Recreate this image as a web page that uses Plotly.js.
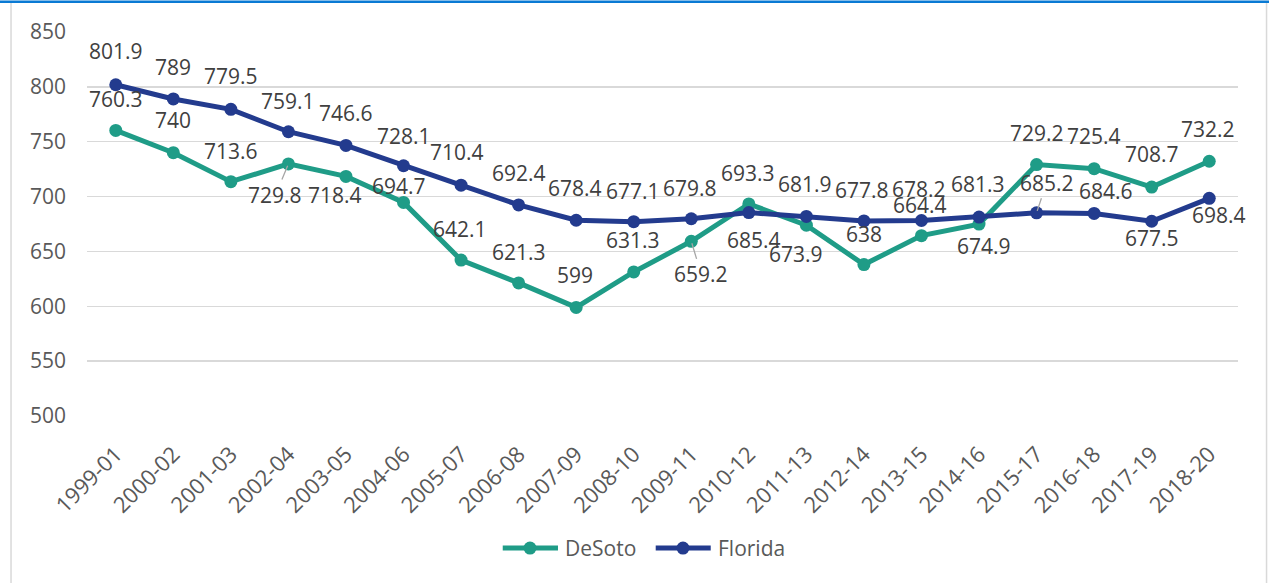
<!DOCTYPE html>
<html><head><meta charset="utf-8">
<script src="https://cdn.plot.ly/plotly-3.0.1.min.js"></script>
<style>html,body{margin:0;padding:0;background:#fff}#chart{width:1269px;height:583px}</style>
</head><body><div id="chart"></div>
<script>
const categories = ["1999-01","2000-02","2001-03","2002-04","2003-05","2004-06","2005-07","2006-08","2007-09","2008-10","2009-11","2010-12","2011-13","2012-14","2013-15","2014-16","2015-17","2016-18","2017-19","2018-20"];
const desoto  = [760.3,740,713.6,729.8,718.4,694.7,642.1,621.3,599,631.3,659.2,693.3,673.9,638,664.4,674.9,729.2,725.4,708.7,732.2];
const florida = [801.9,789,779.5,759.1,746.6,728.1,710.4,692.4,678.4,677.1,679.8,685.4,681.9,677.8,678.2,681.3,685.2,684.6,677.5,698.4];
const seriesNames = ["DeSoto","Florida"];
const yTicks = [500,550,600,650,700,750,800,850];

// label placement (pixel offsets from point: [dx, dy], dy positive = down)
const desotoLabelPos = [[0,-31],[0,-33],[0,-31],[-13,31],[-11,19],[-5,-16],[-1,-31],[0,-31],[-1,-32],[-1,-32],[10,33],[-1,-31],[-10,29],[0,-31],[-1,-31],[5,22],[0,-32],[0,-33],[0,-33],[-1,-32]];
const floridaLabelPos = [[0,-34],[0,-32],[0,-33],[0,-31],[0,-32],[0,-30],[-4,-33],[0,-32],[-1,-32],[-1,-31],[-1,-31],[5,27],[-1,-32],[-2,-31],[-2,-31],[-1,-33],[10,-30],[12,-22],[0,17],[10,17]];
const desotoLeader = [3,10];
const floridaLeader = [16];

const teal = '#1f9c87', navy = '#233b8e';
const FONT = 'Open Sans, Liberation Sans, sans-serif';

function lineTrace(name, ys, color){
  return {type:'scatter', mode:'lines+markers', name:name, x:categories, y:ys,
    line:{color:color, width:5}, marker:{color:color, size:13},
    hoverinfo:'skip', showlegend:false};
}

function labels(ys, pos, leaders){
  return ys.map((v,i)=>{
    const lead = leaders.indexOf(i) >= 0;
    const a = {x:categories[i], y:v, xref:'x', yref:'y', text:String(v),
      font:{family:FONT, size:21, color:'#404040'}};
    if(lead){
      Object.assign(a,{showarrow:true, ax:pos[i][0], ay:pos[i][1], arrowhead:0,
        arrowwidth:1.3, arrowcolor:'#a6a6a6', standoff:2});
    } else {
      Object.assign(a,{showarrow:false, xshift:pos[i][0], yshift:-pos[i][1]});
    }
    return a;
  });
}

// custom legend (paper coords)
const legendY = -0.344;
const legendItems = [
  {name:seriesNames[0], color:teal, x0:0.3612, x1:0.4092, xc:0.3849, xt:0.4133},
  {name:seriesNames[1], color:navy, x0:0.4941, x1:0.5419, xc:0.5178, xt:0.5462}
];
const legendShapes = [], legendAnn = [];
legendItems.forEach(it=>{
  legendShapes.push({type:'line', xref:'paper', yref:'paper', x0:it.x0, x1:it.x1, y0:legendY, y1:legendY,
    line:{color:it.color, width:5}});
  legendShapes.push({type:'circle', xref:'paper', yref:'paper', xsizemode:'pixel', ysizemode:'pixel',
    xanchor:it.xc, yanchor:legendY, x0:-6.5, x1:6.5, y0:-6.5, y1:6.5,
    fillcolor:it.color, line:{color:it.color, width:0}});
  legendAnn.push({xref:'paper', yref:'paper', x:it.xt, y:legendY, xanchor:'left', yanchor:'middle',
    showarrow:false, text:it.name, font:{family:FONT, size:21, color:'#595959'}});
});

const data = [lineTrace(seriesNames[0], desoto, teal), lineTrace(seriesNames[1], florida, navy)];

const layout = {
  width:1269, height:583,
  margin:{l:87, r:31, t:31.5, b:166.5},
  paper_bgcolor:'#fff', plot_bgcolor:'#fff',
  font:{family:FONT, color:'#595959'},
  showlegend:false,
  xaxis:{type:'category', range:[-0.5,19.5], tickangle:-45, showgrid:false, zeroline:false,
    showline:false, ticks:'', tickfont:{family:FONT, size:22, color:'#595959'}, ticklabelstandoff:20},
  yaxis:{range:[500,850], tickvals:yTicks, showgrid:true, gridcolor:'#d9d9d9', gridwidth:1.5,
    zeroline:false, showline:false, ticks:'', tickfont:{family:FONT, size:21, color:'#595959'},
    ticklabelstandoff:20},
  annotations: labels(desoto, desotoLabelPos, desotoLeader)
    .concat(labels(florida, floridaLabelPos, floridaLeader)).concat(legendAnn),
  shapes:[
    {type:'line', xref:'paper', yref:'paper', x0:-0.066, x1:-0.066, y0:1.08, y1:-0.44, line:{color:'#d9d9d9', width:1.5}},
    {type:'line', xref:'paper', yref:'paper', x0:1.0248, x1:1.0248, y0:1.08, y1:-0.44, line:{color:'#d9d9d9', width:1.5}},
    {type:'line', xref:'paper', yref:'paper', x0:-0.08, x1:1.03, y0:1.079, y1:1.079, line:{color:'#0a7ad4', width:2.5}}
  ].concat(legendShapes)
};

Plotly.newPlot('chart', data, layout, {displayModeBar:false, staticPlot:true});
</script>
</body></html>
